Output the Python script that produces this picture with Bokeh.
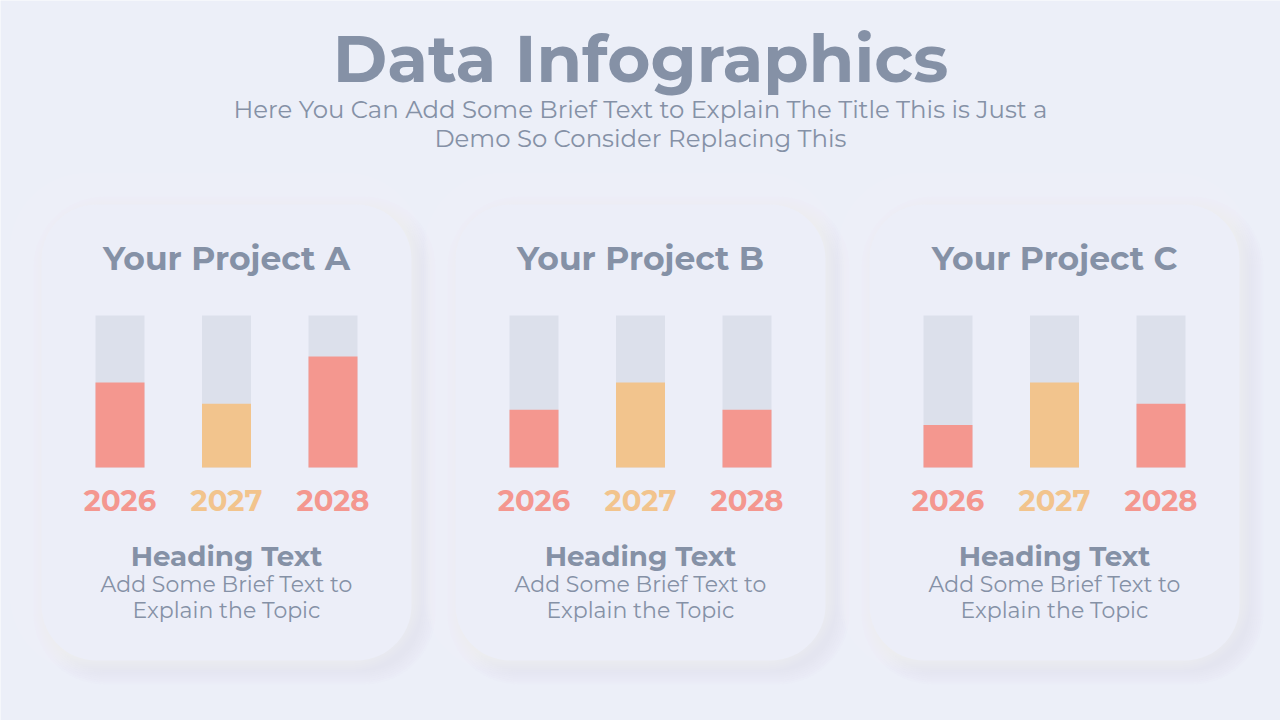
import numpy as np
from bokeh.plotting import figure
from bokeh.models import Range1d
from bokeh.core.properties import value
from bokeh.embed import file_html
from bokeh.resources import INLINE

# ---------------- data ----------------
title = "Data Infographics"
subtitle_lines = ["Here You Can Add Some Brief Text to Explain The Title This is Just a",
                  "Demo So Consider Replacing This"]
projects = ["Your Project A", "Your Project B", "Your Project C"]
years = ["2026", "2027", "2028"]
values_a = [56, 42, 73]
values_b = [38, 56, 38]
values_c = [28, 56, 42]
series = [values_a, values_b, values_c]
heading = "Heading Text"
body_lines = ["Add Some Brief Text to", "Explain the Topic"]

# ---------------- style ----------------
BG = "#ECEFF8"
CARD = "#ECEEF8"
TXT = "#8591A6"
TRACK = "#DCE0EB"
RED = "#F4978F"
ORANGE = "#F2C48D"
year_colors = [RED, ORANGE, RED]
FONT = "Montserrat, Open Sans"

W, H = 1280, 720
card_cx = [226, 640, 1054]
card_w, card_h, card_top = 370, 456, 204
radius = 55
bar_offsets = [-106.5, 0, 106.5]
bar_w = 49
base_px, full_px = 467, 315  # pixel rows of 0 and 100

p = figure(width=W, height=H, output_backend="svg", toolbar_location=None,
           x_range=Range1d(0, W), y_range=Range1d(H, 0),
           x_axis_location=None, y_axis_location=None,
           min_border=0, outline_line_color=None,
           background_fill_color=BG, border_fill_color=BG)
p.grid.visible = False
scale = (base_px - full_px) / 100.0
p.extra_y_ranges = {"val": Range1d(-(H - base_px) / scale, base_px / scale)}


def rrect(cx, top, w, h, r, n=16):
    x0, x1 = cx - w / 2, cx + w / 2
    y0, y1 = top, top + h
    xs, ys = [], []
    corners = [(x1 - r, y0 + r, -90, 0), (x1 - r, y1 - r, 0, 90),
               (x0 + r, y1 - r, 90, 180), (x0 + r, y0 + r, 180, 270)]
    for ccx, ccy, a0, a1 in corners:
        t = np.radians(np.linspace(a0, a1, n))
        xs += list(ccx + r * np.cos(t))
        ys += list(ccy + r * np.sin(t))
    return xs, ys


# shadows and cards
for cx in card_cx:
    # dark shadow bottom-right
    for k in range(16, 0, -2):
        xs, ys = rrect(cx + 8, card_top + 8 - k, card_w + 2 * k, card_h + 2 * k, radius + k)
        p.patch(xs, ys, fill_color="#CED3E5", fill_alpha=0.05, line_color=None)
    # light glow top-left
    for k in range(22, 0, -2):
        xs, ys = rrect(cx - 10, card_top - 10 - k, card_w + 2 * k, card_h + 2 * k, radius + k)
        p.patch(xs, ys, fill_color="#FFFFFF", fill_alpha=0.05, line_color=None)
    xs, ys = rrect(cx, card_top, card_w, card_h, radius)
    p.patch(xs, ys, fill_color=CARD, line_color=None)

# bars
for cx, vals in zip(card_cx, series):
    xs = [cx + o for o in bar_offsets]
    p.vbar(x=xs, width=bar_w, bottom=0, top=[100] * 3, fill_color=TRACK,
           line_color=None, y_range_name="val")
    p.vbar(x=xs, width=bar_w, bottom=0, top=vals, fill_color=year_colors,
           line_color=None, y_range_name="val")
    p.text(x=xs, y=[500] * 3, text=years, text_color=year_colors,
           text_font=value(FONT), text_font_size=value("29px"), text_font_style="bold",
           text_align="center", text_baseline="middle")

# card texts
for cx, name in zip(card_cx, projects):
    p.text(x=[cx], y=[257], text=[name], text_color=TXT, text_font=value(FONT),
           text_font_size=value("33px"), text_font_style="bold",
           text_align="center", text_baseline="middle")
    p.text(x=[cx], y=[555], text=[heading], text_color=TXT, text_font=value(FONT),
           text_font_size=value("27.7px"), text_font_style="bold",
           text_align="center", text_baseline="middle")
    p.text(x=[cx, cx], y=[584, 610], text=body_lines, text_color=TXT,
           text_font=value(FONT), text_font_size=value("22px"),
           text_align="center", text_baseline="middle")

# header
p.text(x=[640], y=[58], text=[title], text_color=TXT, text_font=value(FONT),
       text_font_size=value("66px"), text_font_style="bold",
       text_align="center", text_baseline="middle")
p.text(x=[640, 640], y=[108, 137], text=subtitle_lines, text_color=TXT,
       text_font=value(FONT), text_font_size=value("24.4px"),
       text_align="center", text_baseline="middle")

open("out.html", "w").write(file_html(p, INLINE))
